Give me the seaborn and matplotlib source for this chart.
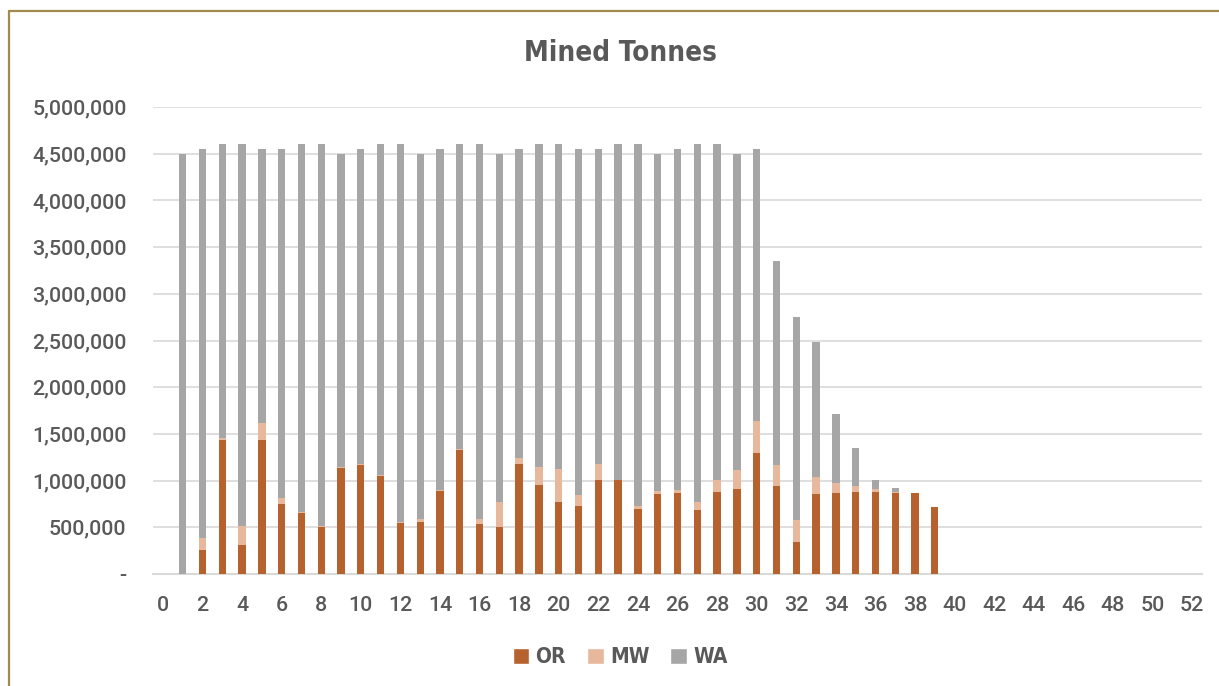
import numpy as np
import pandas as pd
import matplotlib
matplotlib.use('Agg')
import matplotlib.pyplot as plt
import matplotlib.ticker as mticker
from matplotlib.patches import Patch
from matplotlib.lines import Line2D
import seaborn as sns

# periods 0..52, values in tonnes
periods = list(range(0, 53))

total = [0, 4500000, 4550000, 4600000, 4600000, 4550000, 4550000, 4600000, 4600000, 4500000,
         4550000, 4600000, 4600000, 4500000, 4550000, 4600000, 4600000, 4500000, 4550000, 4600000,
         4600000, 4550000, 4550000, 4600000, 4600000, 4500000, 4550000, 4600000, 4600000, 4500000,
         4550000, 3355000, 2752000, 2481000, 1711000, 1344000, 1005000, 920000, 863000, 720000]
ore = [0, 0, 260000, 1440000, 310000, 1440000, 745000, 652000, 503000, 1134000,
       1162000, 1048000, 545000, 556000, 884000, 1326000, 531000, 499000, 1176000, 948000,
       766000, 724000, 1002000, 1002000, 692000, 852000, 863000, 684000, 873000, 906000,
       1291000, 938000, 346000, 852000, 863000, 873000, 873000, 866000, 863000, 720000]
mw = [0, 0, 129000, 18000, 207000, 178000, 71000, 14000, 14000, 7000,
      18000, 14000, 7000, 36000, 11000, 14000, 61000, 271000, 71000, 193000,
      357000, 121000, 178000, 0, 32000, 39000, 39000, 82000, 136000, 210000,
      349000, 228000, 235000, 189000, 110000, 72000, 40000, 14000, 0, 0]

# pad the empty periods out to 52
pad = len(periods) - len(total)
total = total + [0] * pad
ore = ore + [0] * pad
mw = mw + [0] * pad
wa = [t - o - m for t, o, m in zip(total, ore, mw)]

df = pd.DataFrame({'Period': periods, 'OR': ore, 'MW': mw, 'WA': wa})
df['OR_MW'] = df['OR'] + df['MW']
df['Total'] = df['OR_MW'] + df['WA']

c_or = '#B5622F'
c_mw = '#E7B89B'
c_wa = '#A6A6A6'
txt = '#595959'
grid = '#D9D9D9'

sns.set_style('white')
plt.rcParams['font.family'] = ['Roboto', 'DejaVu Sans']

fig = plt.figure(figsize=(12.19, 6.86), dpi=100)
ax = fig.add_axes([153 / 1219, 1 - 574 / 686, 1049 / 1219, 467 / 686])

# stack by overdrawing cumulative heights
bw = 0.37
sns.barplot(data=df, x='Period', y='Total', order=periods, color=c_wa, saturation=1,
            width=bw, linewidth=0, ax=ax, zorder=3)
sns.barplot(data=df, x='Period', y='OR_MW', order=periods, color=c_mw, saturation=1,
            width=bw, linewidth=0, ax=ax, zorder=3)
sns.barplot(data=df, x='Period', y='OR', order=periods, color=c_or, saturation=1,
            width=bw, linewidth=0, ax=ax, zorder=3)

ax.set_xlim(-0.5, 52.5)
ax.set_ylim(0, 5000000)
ax.set_yticks(np.arange(0, 5000001, 500000))
ax.yaxis.set_major_formatter(mticker.FuncFormatter(lambda v, p: '-' if v == 0 else f'{v:,.0f}'))
ax.set_xticks(list(range(0, 53, 2)))
ax.set_xticklabels([str(i) for i in range(0, 53, 2)])
ax.set_xlabel('')
ax.set_ylabel('')

ax.grid(axis='y', color=grid, linewidth=1.2, zorder=0)
ax.set_axisbelow(True)
for s in ['top', 'right', 'left']:
    ax.spines[s].set_visible(False)
ax.spines['bottom'].set_color(grid)
ax.spines['bottom'].set_linewidth(1.5)
ax.tick_params(axis='y', length=0, pad=19, labelsize=15.4, labelcolor=txt)
ax.tick_params(axis='x', length=0, pad=16, labelsize=15.4, labelcolor=txt)
for lab in ax.get_xticklabels() + ax.get_yticklabels():
    lab.set_fontweight('medium')

narrow = {'family': 'DejaVu Sans', 'stretch': 'condensed'}

fig.text(620 / 1219, 1 - 53 / 686, 'Mined Tonnes', ha='center', va='center',
         fontsize=20, color=txt, fontweight='bold', **narrow)

handles = [Patch(facecolor=c_or, label='OR'), Patch(facecolor=c_mw, label='MW'),
           Patch(facecolor=c_wa, label='WA')]
fig.legend(handles=handles, loc='center', bbox_to_anchor=(620 / 1219, 1 - 657 / 686),
           ncol=3, frameon=False, handlelength=0.8, handleheight=0.8, handletextpad=0.3,
           columnspacing=1.0, prop={'family': 'DejaVu Sans', 'stretch': 'condensed',
                                    'weight': 'bold', 'size': 15},
           labelcolor=txt)

# chart border (only top and left edges visible in the crop)
border = '#A08A4E'
fig.add_artist(Line2D([9 / 1219, 9 / 1219], [0, 1 - 11 / 686], transform=fig.transFigure,
                      color=border, linewidth=1.6))
fig.add_artist(Line2D([9 / 1219, 1], [1 - 11 / 686, 1 - 11 / 686], transform=fig.transFigure,
                      color=border, linewidth=1.6))

fig.savefig('out.png', dpi=100)
